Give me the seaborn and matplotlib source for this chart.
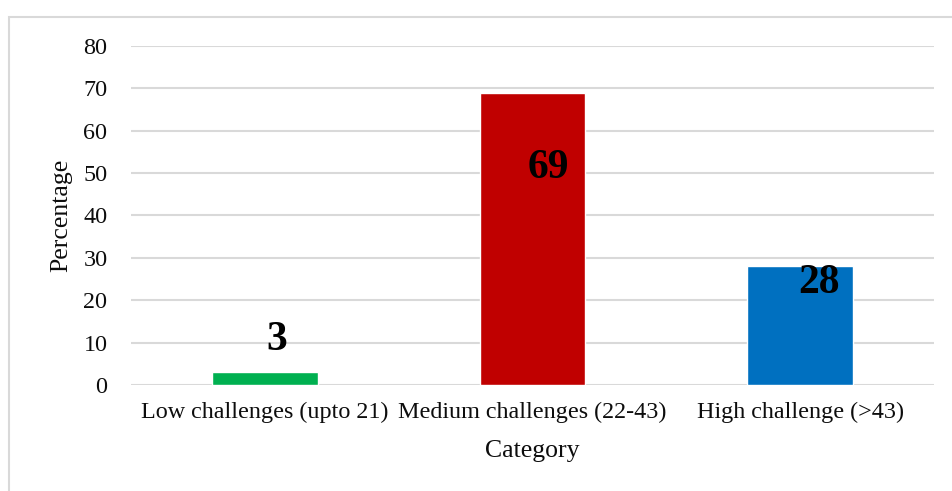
import matplotlib
matplotlib.use("Agg")
import matplotlib.pyplot as plt
import seaborn as sns
import pandas as pd
from matplotlib.patches import Rectangle

# Duomenys
categories = ["Low challenges (upto 21)", "Medium challenges (22-43)", "High challenge (>43)"]
percentages = [3, 69, 28]
bar_colors = ["#00B050", "#C00000", "#0070C0"]

df = pd.DataFrame({"Category": categories, "Percentage": percentages})

sns.set_style("white")
plt.rcParams["font.family"] = ["Liberation Serif", "DejaVu Serif"]

fig = plt.figure(figsize=(9.52, 4.91), dpi=100)
ax = fig.add_axes([0.1376, 0.2159, 0.8434, 0.6904])

sns.barplot(data=df, x="Category", y="Percentage", hue="Category",
            palette=bar_colors, saturation=1, width=0.395, legend=False,
            ax=ax, zorder=3)

ax.set_ylim(0, 80)
ax.set_yticks(range(0, 81, 10))
ax.set_xlim(-0.5, 2.5)
ax.yaxis.grid(True, color="#d9d9d9", linewidth=1.5, zorder=0)
ax.set_axisbelow(True)
for s in ax.spines.values():
    s.set_visible(False)
ax.tick_params(axis="both", length=0, labelsize=17.4, colors="#0d0d0d")
ax.tick_params(axis="y", pad=17)
ax.tick_params(axis="x", pad=12)
ax.set_xlabel("Category", fontsize=18.5, labelpad=12, color="#0d0d0d")
ax.set_ylabel("Percentage", fontsize=18.5, labelpad=8, color="#0d0d0d")

# Reikšmių etiketės (perkeltos kaip originale)
label_dx = [0.045, 0.06, 0.071]
label_y = [10.6, 51.2, 24.0]
for i, v in enumerate(percentages):
    ax.text(i + label_dx[i], label_y[i], str(v), ha="center", va="center",
            fontsize=30, fontweight="bold", color="black", zorder=5)

# Rėmelis aplink diagramą
fig.patches.append(Rectangle((9 / 952, -0.05), 1.0, 1 - 17 / 491 + 0.05,
                             transform=fig.transFigure, fill=False,
                             edgecolor="#d9d9d9", linewidth=1.5))

fig.savefig("out.png", dpi=100)
